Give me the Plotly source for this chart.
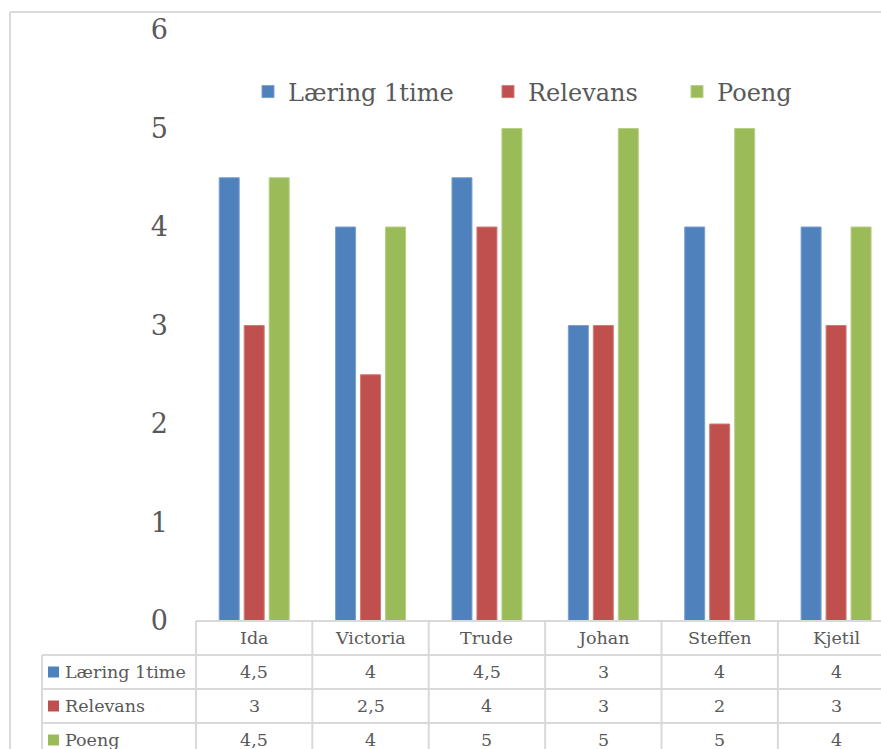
import plotly.graph_objects as go

categories = ["Ida", "Victoria", "Trude", "Johan", "Steffen", "Kjetil"]
series_names = ["Læring 1time", "Relevans", "Poeng"]
laering = [4.5, 4, 4.5, 3, 4, 4]
relevans = [3, 2.5, 4, 3, 2, 3]
poeng = [4.5, 4, 5, 5, 5, 4]
series_values = [laering, relevans, poeng]
colors = ["#4F81BD", "#C0504D", "#9BBB59"]
edge_colors = ["#7A9FD0", "#D07A78", "#B5CF85"]
y_ticks = [0, 1, 2, 3, 4, 5, 6]

W, H = 881, 749
ML, MR, MT, MB = 196, 0, 30, 128
PW, PH = W - ML - MR, H - MT - MB
XR = [-0.5, 5.386]
FONT = "DejaVu Serif"
GRID = "#D9D9D9"
TXT = "#595959"
legend_ids = ["legend", "legend2", "legend3"]
legend_px = [248, 488, 677]


def fmt(v):
    s = ("%g" % v)
    return s.replace(".", ",")


def xpx_to_paper(px):
    return (px - ML) / PW


def ypx_to_paper(py):
    return (H - MB - py) / PH


def xdata_to_paper(x):
    return (x - XR[0]) / (XR[1] - XR[0])


fig = go.Figure()
for name, vals, c, ec, lg in zip(series_names, series_values, colors, edge_colors, legend_ids):
    fig.add_trace(go.Bar(x=list(range(len(categories))), y=vals, name=name, legend=lg,
                         marker=dict(color=c, line=dict(color=ec, width=1))))

shapes = []
annotations = []
line = dict(color=GRID, width=2)

# chart border (left + top visible)
shapes.append(dict(type="line", xref="paper", yref="paper",
                   x0=xpx_to_paper(10), x1=xpx_to_paper(W + 20),
                   y0=ypx_to_paper(12), y1=ypx_to_paper(12), line=line))
shapes.append(dict(type="line", xref="paper", yref="paper",
                   x0=xpx_to_paper(10), x1=xpx_to_paper(10),
                   y0=ypx_to_paper(12), y1=ypx_to_paper(H + 20), line=line))

# data table
row_h = 34
top = H - MB
row_tops = [top + row_h * i for i in range(5)]
x_left_col = 42
shapes.append(dict(type="line", xref="paper", yref="paper",
                   x0=0, x1=1.05, y0=ypx_to_paper(row_tops[0]), y1=ypx_to_paper(row_tops[0]), line=line))
for i in range(1, 5):
    shapes.append(dict(type="line", xref="paper", yref="paper",
                       x0=xpx_to_paper(x_left_col), x1=1.05,
                       y0=ypx_to_paper(row_tops[i]), y1=ypx_to_paper(row_tops[i]), line=line))
for k in range(len(categories) + 1):
    xp = xdata_to_paper(k - 0.5)
    shapes.append(dict(type="line", xref="paper", yref="paper",
                       x0=xp, x1=xp, y0=ypx_to_paper(row_tops[0]), y1=ypx_to_paper(H + 20), line=line))
shapes.append(dict(type="line", xref="paper", yref="paper",
                   x0=xpx_to_paper(x_left_col), x1=xpx_to_paper(x_left_col),
                   y0=ypx_to_paper(row_tops[1]), y1=ypx_to_paper(H + 20), line=line))

TFS = 17.5
for k, cat in enumerate(categories):
    annotations.append(dict(x=k, xref="x", y=ypx_to_paper(row_tops[0] + row_h / 2), yref="paper",
                            text=cat, showarrow=False, xanchor="center", yanchor="middle",
                            font=dict(family=FONT, size=TFS, color=TXT)))
for r, (name, vals, c) in enumerate(zip(series_names, series_values, colors)):
    yc = ypx_to_paper(row_tops[r + 1] + row_h / 2)
    shapes.append(dict(type="rect", xref="paper", yref="paper",
                       x0=xpx_to_paper(48), x1=xpx_to_paper(59),
                       y0=yc - 5.5 / PH, y1=yc + 5.5 / PH, fillcolor=c, line=dict(width=0)))
    annotations.append(dict(x=xpx_to_paper(63), xref="paper", y=yc, yref="paper",
                            text=name, showarrow=False, xanchor="left", yanchor="middle",
                            font=dict(family=FONT, size=TFS, color=TXT)))
    for k, v in enumerate(vals):
        annotations.append(dict(x=k, xref="x", y=yc, yref="paper",
                                text=fmt(v), showarrow=False, xanchor="center", yanchor="middle",
                                font=dict(family=FONT, size=TFS, color=TXT)))

legend_layout = {}
for lg, px in zip(legend_ids, legend_px):
    legend_layout[lg] = dict(orientation="h", x=xpx_to_paper(px), xanchor="left",
                             y=ypx_to_paper(92), yanchor="middle",
                             font=dict(family=FONT, size=24, color=TXT),
                             itemwidth=30, bgcolor="rgba(0,0,0,0)")

fig.update_layout(
    width=W, height=H,
    margin=dict(l=ML, r=MR, t=MT, b=MB),
    paper_bgcolor="white", plot_bgcolor="white",
    barmode="group", bargap=0.356, bargroupgap=0.2,
    showlegend=True,
    xaxis=dict(range=XR, showticklabels=False, showgrid=False, zeroline=False,
               showline=False, ticks="", fixedrange=True),
    yaxis=dict(range=[0, 6], tickvals=y_ticks, ticktext=[str(t) for t in y_ticks],
               showgrid=False, zeroline=False, showline=False, ticks="",
               ticklabelstandoff=27,
               tickfont=dict(family=FONT, size=27, color=TXT)),
    shapes=shapes, annotations=annotations,
    **legend_layout,
)

fig.write_html("out.html")
